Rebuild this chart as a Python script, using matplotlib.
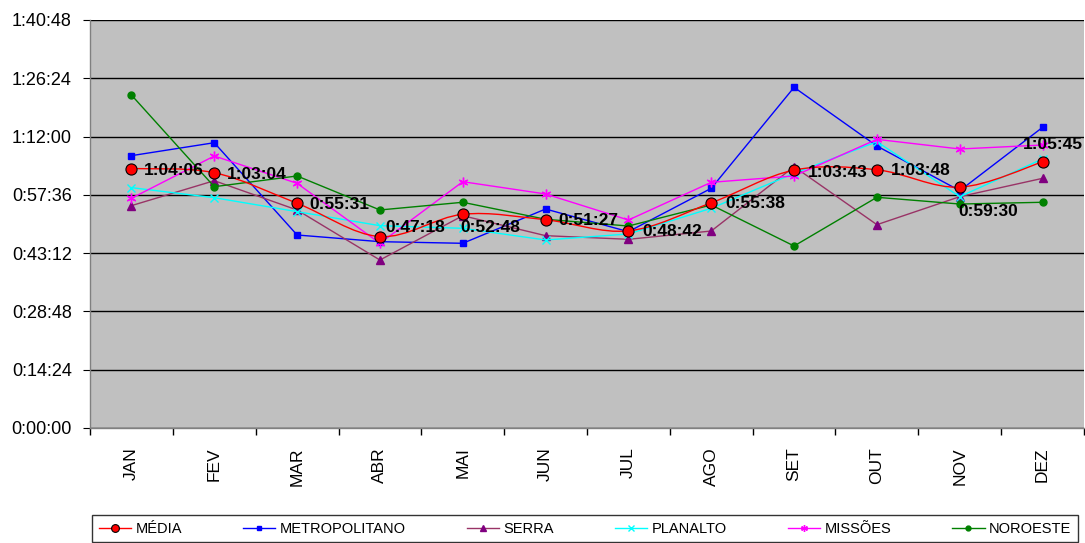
import matplotlib.pyplot as plt
from matplotlib.path import Path
from matplotlib.patches import PathPatch
from matplotlib.ticker import FixedLocator, FuncFormatter

meses = ['JAN', 'FEV', 'MAR', 'ABR', 'MAI', 'JUN', 'JUL', 'AGO', 'SET', 'OUT', 'NOV', 'DEZ']

media = ['1:04:06', '1:03:04', '0:55:31', '0:47:18', '0:52:48', '0:51:27',
         '0:48:42', '0:55:38', '1:03:43', '1:03:48', '0:59:30', '1:05:45']
metropolitano = ['1:07:17', '1:10:29', '0:47:41', '0:46:02', '0:45:38', '0:54:06',
                 '0:48:30', '0:59:13', '1:24:10', '1:09:40', '0:58:38', '1:14:17']
serra = ['0:54:56', '1:01:06', '0:53:52', '0:41:30', '0:52:27', '0:47:31',
         '0:46:37', '0:48:40', '1:04:34', '0:50:14', '0:57:09', '1:01:41']
planalto = ['0:59:23', '0:56:54', '0:53:27', '0:49:59', '0:49:20', '0:46:27',
            '0:47:56', '0:54:17', '1:02:55', '1:10:44', '0:57:09', '1:06:28']
missoes = ['0:56:45', '1:07:12', '1:00:27', '0:45:38', '1:00:51', '0:57:49',
           '0:51:23', '1:00:42', '1:02:16', '1:11:19', '1:08:56', '1:09:55']
noroeste = ['1:22:16', '0:59:37', '1:02:16', '0:53:52', '0:55:46', '0:51:34',
            '0:49:54', '0:55:06', '0:44:58', '0:57:00', '0:55:20', '0:55:46']

y_ticks = ['0:00:00', '0:14:24', '0:28:48', '0:43:12', '0:57:36',
           '1:12:00', '1:26:24', '1:40:48']


def seg(t):
    h, m, s = (int(p) for p in t.split(':'))
    return h * 3600 + m * 60 + s


def hms(v, pos=None):
    v = int(round(v))
    return '%d:%02d:%02d' % (v // 3600, v % 3600 // 60, v % 60)


plt.rcParams['font.family'] = ['Liberation Sans', 'DejaVu Sans']

fig = plt.figure(figsize=(10.85, 5.43), dpi=100)
ax = fig.add_axes([90 / 1085, 1 - 428 / 543, 994 / 1085, 408 / 543])
ax.set_facecolor('#C0C0C0')

x = list(range(len(meses)))

series = [
    (metropolitano, 'METROPOLITANO', '#0000FF', 's', 5, '#0000FF'),
    (serra, 'SERRA', '#993366', '^', 6, '#800080'),
    (planalto, 'PLANALTO', '#00FFFF', 'x', 6, '#00FFFF'),
    (missoes, 'MISSÕES', '#FF00FF', (6, 2, 0), 7, '#FF00FF'),
    (noroeste, 'NOROESTE', '#008000', 'o', 5, '#008000'),
]

handles = {}
for vals, nome, cor, mk, ms, mcor in series:
    y = [seg(v) for v in vals]
    h, = ax.plot(x, y, color=cor, lw=1, marker=mk, ms=ms, mfc=mcor, mec=mcor,
                 mew=1, label=nome, zorder=3)
    handles[nome] = h

# média: linha suavizada (bezier) como no Excel
ym = [seg(v) for v in media]
verts = [(x[0], ym[0])]
codes = [Path.MOVETO]
n = len(x)
for i in range(n - 1):
    p0 = (x[max(i - 1, 0)], ym[max(i - 1, 0)])
    p1 = (x[i], ym[i])
    p2 = (x[i + 1], ym[i + 1])
    p3 = (x[min(i + 2, n - 1)], ym[min(i + 2, n - 1)])
    c1 = (p1[0] + (p2[0] - p0[0]) / 6, p1[1] + (p2[1] - p0[1]) / 6)
    c2 = (p2[0] - (p3[0] - p1[0]) / 6, p2[1] - (p3[1] - p1[1]) / 6)
    verts += [c1, c2, p2]
    codes += [Path.CURVE4] * 3
ax.add_patch(PathPatch(Path(verts, codes), fc='none', ec='#FF0000', lw=1, zorder=4))
ax.plot(x, ym, ls='none', marker='o', ms=8, mfc='#FF0000', mec='black', mew=0.8, zorder=5)
h_media, = ax.plot([], [], color='#FF0000', lw=1, marker='o', ms=8, mfc='#FF0000',
                   mec='black', mew=0.8, label='MÉDIA')

# rótulos da média (deslocamento em pixels)
desloc = [(12, -2), (13, -2), (12, -1), (5, 9), (-2, -13), (13, -1),
          (14, -1), (14, -1), (14, -2), (14, -1), (-1, -24), (-20, 17)]
for i, v in enumerate(media):
    dx, dy = desloc[i]
    ax.annotate(v, (x[i], ym[i]), xytext=(dx * 0.72, dy * 0.72), textcoords='offset points',
                fontsize=12.5, fontweight='bold', va='center', ha='left', zorder=6)

ax.set_xlim(-0.5, n - 0.5)
ax.set_ylim(0, seg(y_ticks[-1]))
ax.yaxis.set_major_locator(FixedLocator([seg(t) for t in y_ticks]))
ax.yaxis.set_major_formatter(FuncFormatter(hms))
ax.grid(axis='y', color='black', lw=1, zorder=1)
ax.set_axisbelow(True)

ax.set_xticks(x)
ax.set_xticklabels(meses, rotation=90, fontsize=12.5)
ax.set_xticks([i - 0.5 for i in range(n + 1)], minor=True)
ax.tick_params(axis='x', which='major', length=0, pad=14)
ax.tick_params(axis='x', which='minor', length=5, color='black', width=1)
ax.tick_params(axis='y', length=5, color='black', labelsize=13, pad=8)

for s in ['top', 'right']:
    ax.spines[s].set_visible(False)
for s in ['left', 'bottom']:
    ax.spines[s].set_color('#808080')
    ax.spines[s].set_linewidth(1)

hs = [h_media] + [handles[s[1]] for s in series]
leg = fig.legend(handles=hs, loc='lower left', bbox_to_anchor=(85 / 1085, -0.012, 1000 / 1085, 30 / 543),
                 mode='expand', ncol=6, frameon=True, fancybox=False, fontsize=10.5,
                 handlelength=2.2, handletextpad=0.3, borderpad=0.45, markerscale=0.7)
leg.get_frame().set_edgecolor('black')
leg.get_frame().set_linewidth(1)

fig.savefig('out.png', dpi=100)
